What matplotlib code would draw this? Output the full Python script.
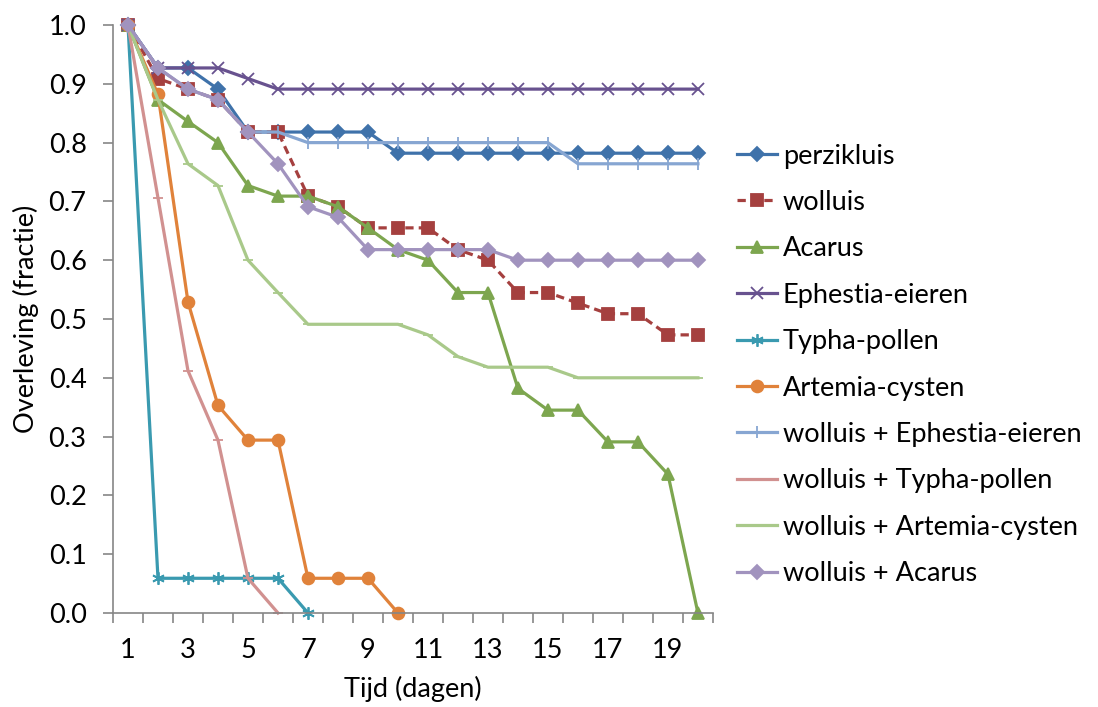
import matplotlib.pyplot as plt
import numpy as np

plt.rcParams['font.family'] = ['Lato', 'DejaVu Sans']

days = np.arange(1, 21)

perzikluis = [1.0, 0.927, 0.927, 0.891, 0.818, 0.818, 0.818, 0.818, 0.818, 0.782,
              0.782, 0.782, 0.782, 0.782, 0.782, 0.782, 0.782, 0.782, 0.782, 0.782]
wolluis = [1.0, 0.909, 0.891, 0.873, 0.818, 0.818, 0.709, 0.691, 0.655, 0.655,
           0.655, 0.618, 0.6, 0.545, 0.545, 0.527, 0.509, 0.509, 0.473, 0.473]
acarus = [1.0, 0.873, 0.836, 0.8, 0.727, 0.709, 0.709, 0.691, 0.655, 0.618,
          0.6, 0.545, 0.545, 0.382, 0.345, 0.345, 0.291, 0.291, 0.236, 0.0]
ephestia = [1.0, 0.927, 0.927, 0.927, 0.909, 0.891, 0.891, 0.891, 0.891, 0.891,
            0.891, 0.891, 0.891, 0.891, 0.891, 0.891, 0.891, 0.891, 0.891, 0.891]
typha = [1.0, 0.059, 0.059, 0.059, 0.059, 0.059, 0.0]
artemia = [1.0, 0.882, 0.529, 0.353, 0.294, 0.294, 0.059, 0.059, 0.059, 0.0]
wol_ephestia = [1.0, 0.927, 0.891, 0.873, 0.818, 0.818, 0.8, 0.8, 0.8, 0.8,
                0.8, 0.8, 0.8, 0.8, 0.8, 0.764, 0.764, 0.764, 0.764, 0.764]
wol_typha = [1.0, 0.706, 0.412, 0.294, 0.059, 0.0]
wol_artemia = [1.0, 0.873, 0.764, 0.727, 0.6, 0.545, 0.491, 0.491, 0.491, 0.491,
               0.473, 0.436, 0.418, 0.418, 0.418, 0.4, 0.4, 0.4, 0.4, 0.4]
wol_acarus = [1.0, 0.927, 0.891, 0.873, 0.818, 0.764, 0.691, 0.673, 0.618, 0.618,
              0.618, 0.618, 0.618, 0.6, 0.6, 0.6, 0.6, 0.6, 0.6, 0.6]

series = [
    ("perzikluis", perzikluis, "#3F72AA", "D", 7, "-"),
    ("wolluis", wolluis, "#A5403F", "s", 8, (0, (2.6, 1.6))),
    ("Acarus", acarus, "#7DA64F", "^", 8.5, "-"),
    ("Ephestia-eieren", ephestia, "#68528F", "x", 8, "-"),
    ("Typha-pollen", typha, "#3A9AB0", (6, 2, 0), 9, "-"),
    ("Artemia-cysten", artemia, "#E0823A", "o", 8.5, "-"),
    ("wolluis + Ephestia-eieren", wol_ephestia, "#87A6D2", "|", 8, "-"),
    ("wolluis + Typha-pollen", wol_typha, "#D19190", "_", 7, "-"),
    ("wolluis + Artemia-cysten", wol_artemia, "#A9C98A", "_", 7, "-"),
    ("wolluis + Acarus", wol_acarus, "#A193BE", "D", 7, "-"),
]

fs = 19.5

fig = plt.figure(figsize=(10.98, 7.07), dpi=100)
ax = fig.add_axes([0.1029, 0.133, 0.5464, 0.8316])

for name, vals, color, marker, ms, ls in series:
    ax.plot(days[:len(vals)], vals, color=color, lw=2.3, ls=ls, marker=marker,
            ms=ms, mec=color, mfc=color, mew=1.3, label=name, clip_on=False)

ax.set_xlim(0.5, 20.5)
ax.set_ylim(0, 1.0)
ax.set_yticks(np.arange(0, 1.01, 0.1))
ax.set_yticklabels([f"{v:.1f}" for v in np.arange(0, 1.01, 0.1)])
ax.set_xticks(np.arange(1, 21, 2))
ax.set_xticks(np.arange(0.5, 21, 1), minor=True)
ax.tick_params(axis='x', which='major', length=0, pad=18, labelsize=fs)
ax.tick_params(axis='x', which='minor', length=7, color='#868686', width=1.2)
ax.tick_params(axis='y', length=7, color='#868686', width=1.2, labelsize=fs, pad=12)
for side in ['top', 'right']:
    ax.spines[side].set_visible(False)
for side in ['left', 'bottom']:
    ax.spines[side].set_color('#868686')
    ax.spines[side].set_linewidth(1.2)

ax.set_xlabel("Tijd (dagen)", fontsize=fs, labelpad=9)
ax.set_ylabel("Overleving (fractie)", fontsize=fs, labelpad=7)

fig.legend(loc='center left', bbox_to_anchor=(0.661, 0.484), frameon=False,
           fontsize=fs, handlelength=1.5, handletextpad=0.2, labelspacing=0.79,
           borderaxespad=0)

fig.savefig("out.png", dpi=100)
